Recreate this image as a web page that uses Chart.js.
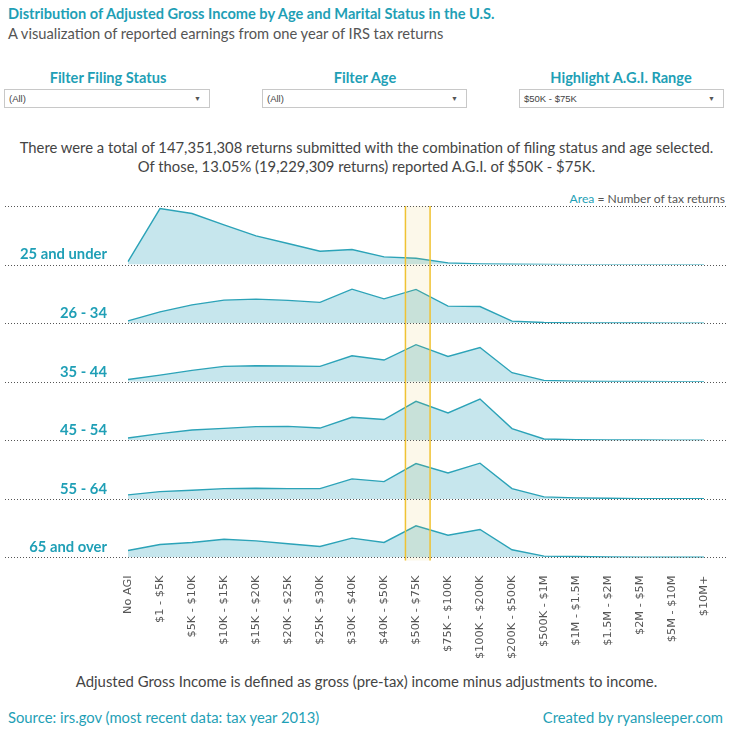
<!DOCTYPE html>
<html>
<head>
<meta charset="utf-8">
<script src="https://cdn.jsdelivr.net/npm/chart.js@4.4.0/dist/chart.umd.min.js"></script>
<style>
  body { margin: 0; background: #fff; font-family: Lato, 'Open Sans', sans-serif; }
  #page { position: relative; width: 733px; height: 732px; overflow: hidden; }
  .t { position: absolute; white-space: nowrap; line-height: 20px; height: 20px; }
  .teal { color: #1f9fb6; }
  .title { left: 8px; top: 4px; font-size: 14.6px; font-weight: 700; }
  .sub { left: 8px; top: 23px; font-size: 14.7px; color: #555; }
  .flabel { top: 68px; font-size: 14.6px; font-weight: 700; transform: translateX(-50%); }
  .dd { position: absolute; top: 89px; height: 17px; border: 1px solid #c8c8c8; background: #fff;
        font-family: 'Liberation Sans', Arial, sans-serif; font-size: 9.5px; color: #444; line-height: 17px; }
  .dd span { position: absolute; left: 4px; }
  .dd i { position: absolute; right: 8px; top: 0; font-style: normal; font-size: 7px; color: #555; }
  .summary { left: 0; width: 733px; text-align: center; font-size: 14.8px; color: #444; }
  .legend { right: 8px; top: 189px; font-size: 12.1px; color: #555; }
  .note { left: 0; width: 733px; top: 671px; text-align: center; font-size: 14.9px; color: #444; }
  .foot { top: 707px; font-size: 14.8px; }
  #chartBox { position: absolute; left: 0; top: 190px; width: 733px; height: 480px; }
</style>
</head>
<body>
<div id="page">
  <div class="t title teal">Distribution of Adjusted Gross Income by Age and Marital Status in the U.S.</div>
  <div class="t sub">A visualization of reported earnings from one year of IRS tax returns</div>

  <div class="t flabel teal" style="left:108px;">Filter Filing Status</div>
  <div class="t flabel teal" style="left:365px;">Filter Age</div>
  <div class="t flabel teal" style="left:621px;">Highlight A.G.I. Range</div>

  <div class="dd" style="left:4px; width:204px;"><span>(All)</span><i>&#9660;</i></div>
  <div class="dd" style="left:262px; width:203px;"><span>(All)</span><i>&#9660;</i></div>
  <div class="dd" style="left:519px; width:203px;"><span>$50K - $75K</span><i>&#9660;</i></div>

  <div class="t summary" style="top:137px;">There were a total of 147,351,308 returns submitted with the combination of filing status and age selected.</div>
  <div class="t summary" style="top:156px;">Of those, 13.05% (19,229,309 returns) reported A.G.I. of $50K - $75K.</div>

  <div class="t legend"><span class="teal">Area</span> = Number of tax returns</div>

  <div id="chartBox"><canvas id="ridge"></canvas></div>

  <div class="t note">Adjusted Gross Income is defined as gross (pre-tax) income minus adjustments to income.</div>
  <div class="t foot teal" style="left:8px;">Source: irs.gov (most recent data: tax year 2013)</div>
  <div class="t foot teal" style="right:10px;">Created by ryansleeper.com</div>
</div>

<script>
// ── AGI bands (x axis) and age groups (rows) ──
var incomeBands = ['No AGI', '$1 - $5K', '$5K - $10K', '$10K - $15K', '$15K - $20K', '$20K - $25K',
  '$25K - $30K', '$30K - $40K', '$40K - $50K', '$50K - $75K', '$75K - $100K', '$100K - $200K',
  '$200K - $500K', '$500K - $1M', '$1M - $1.5M', '$1.5M - $2M', '$2M - $5M', '$5M - $10M', '$10M+'];

var ageGroups = ['25 and under', '26 - 34', '35 - 44', '45 - 54', '55 - 64', '65 and over'];

// number of returns, millions
var under25  = [0.32, 5.88, 5.36, 4.17, 3.02, 2.21, 1.40, 1.58, 0.81, 0.66, 0.18, 0.07, 0.03, 0.01, 0, 0, 0, 0, 0];
var age26_34 = [0.24, 1.19, 1.92, 2.42, 2.52, 2.39, 2.18, 3.57, 2.55, 3.54, 1.79, 1.75, 0.21, 0.07, 0.02, 0.01, 0.01, 0, 0];
var age35_44 = [0.24, 0.70, 1.19, 1.61, 1.68, 1.65, 1.61, 2.73, 2.28, 3.89, 2.66, 3.60, 0.95, 0.14, 0.07, 0.03, 0.03, 0.01, 0.01];
var age45_54 = [0.24, 0.70, 1.08, 1.26, 1.44, 1.47, 1.29, 2.42, 2.18, 4.10, 2.87, 4.34, 1.23, 0.14, 0.07, 0.03, 0.03, 0.01, 0.01];
var age55_64 = [0.42, 0.77, 0.91, 1.08, 1.12, 1.08, 1.08, 2.10, 1.82, 3.71, 2.73, 3.75, 1.08, 0.21, 0.11, 0.07, 0.03, 0.02, 0.02];
var age65up  = [0.74, 1.37, 1.58, 1.92, 1.75, 1.44, 1.16, 2.03, 1.58, 3.33, 2.34, 2.94, 0.81, 0.14, 0.11, 0.05, 0.04, 0.02, 0.02];

var rowValues = [under25, age26_34, age35_44, age45_54, age55_64, age65up];
var rowMax = 6.15;              // shared scale for every row (millions)
var highlightBand = '$50K - $75K';

var TEAL = '#2ca3b8';
var AREA = '#c6e6ed';

// ── one stacked y axis per age group ──
var scales = {
  x: {
    type: 'category',
    labels: incomeBands,
    offset: false,
    grid: { display: false },
    border: { display: false },
    ticks: {
      autoSkip: false, minRotation: 90, maxRotation: 90, padding: 10,
      color: '#555', font: { family: "'DejaVu Sans', sans-serif", size: 11.3 }
    },
    afterFit: function(s) { s.height = 112.5; }
  }
};
var datasets = [];
ageGroups.forEach(function(name, i) {
  var id = 'y' + i;
  scales[id] = {
    type: 'linear', position: 'left', stack: 'ridge', stackWeight: 1,
    weight: ageGroups.length - i, min: 0, max: rowMax, display: false
  };
  datasets.push({
    label: name,
    data: rowValues[i],
    yAxisID: id,
    borderColor: TEAL,
    backgroundColor: AREA,
    borderWidth: 1.4,
    pointRadius: 0,
    tension: 0,
    fill: 'origin'
  });
});

// ── band, dotted baselines and row labels ──
var ridgeDecor = {
  id: 'ridgeDecor',
  afterDatasetsDraw: function(chart) {
    var ctx = chart.ctx, area = chart.chartArea, xs = chart.scales.x;
    var idx = incomeBands.indexOf(highlightBand);
    var bx0 = xs.getPixelForValue(idx - 0.33), bx1 = xs.getPixelForValue(idx + 0.44);
    ctx.save();
    ctx.fillStyle = 'rgba(226,187,51,0.1)';
    ctx.fillRect(bx0, area.top, bx1 - bx0, area.bottom - area.top + 3);
    ctx.strokeStyle = '#f0c232';
    ctx.lineWidth = 1.5;
    ctx.beginPath();
    ctx.moveTo(bx0, area.top); ctx.lineTo(bx0, area.bottom + 3);
    ctx.moveTo(bx1, area.top); ctx.lineTo(bx1, area.bottom + 3);
    ctx.stroke();

    ctx.strokeStyle = '#555';
    ctx.lineWidth = 1;
    ctx.setLineDash([1, 2]);
    ageGroups.forEach(function(name, i) {
      var ys = chart.scales['y' + i];
      var lines = i === 0 ? [ys.top, ys.bottom] : [ys.bottom];
      lines.forEach(function(y) {
        var py = Math.round(y) + 0.5;
        ctx.beginPath(); ctx.moveTo(5, py); ctx.lineTo(726, py); ctx.stroke();
      });
    });
    ctx.setLineDash([]);

    ctx.fillStyle = '#1f9fb6';
    ctx.font = "bold 14.8px Lato, 'Open Sans', sans-serif";
    ctx.textAlign = 'right';
    ctx.textBaseline = 'middle';
    ageGroups.forEach(function(name, i) {
      var ys = chart.scales['y' + i];
      ctx.fillText(name, 107, ys.bottom - 10);
    });
    ctx.restore();
  }
};

new Chart(document.getElementById('ridge'), {
  type: 'line',
  data: { labels: incomeBands, datasets: datasets },
  options: {
    responsive: true,
    maintainAspectRatio: false,
    animation: false,
    layout: { padding: { top: 16, left: 128, right: 29, bottom: 0 } },
    plugins: { legend: { display: false }, tooltip: { enabled: false } },
    scales: scales
  },
  plugins: [ridgeDecor]
});
</script>
</body>
</html>
